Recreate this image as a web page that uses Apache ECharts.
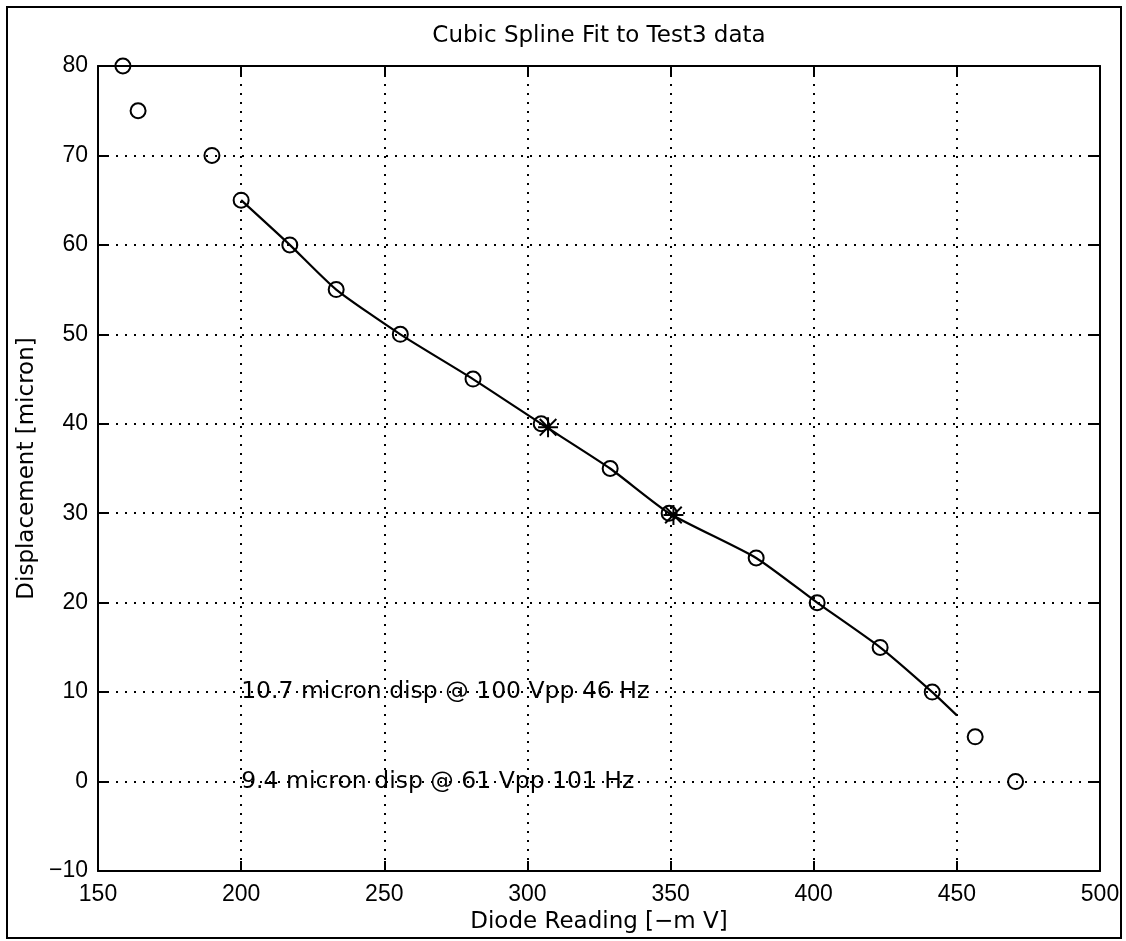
<!DOCTYPE html>
<html>
<head>
<meta charset="utf-8">
<title>Cubic Spline Fit to Test3 data</title>
<script src="https://cdn.jsdelivr.net/npm/echarts@6/dist/echarts.min.js"></script>
<style>
  html, body { margin: 0; padding: 0; background: #fff; }
  #chart { width: 1126px; height: 941px; }
</style>
</head>
<body>
<div id="chart"></div>
<script>
// measured test points (circles)
const diodeReading = [158.7, 164, 189.8, 200, 217, 233.2, 255.6, 281, 304.8, 328.9, 349.5, 379.9, 401.2, 423.2, 441.4, 456.4, 470.5];
const displacement = [80, 75, 70, 65, 60, 55, 50, 45, 40, 35, 30, 25, 20, 15, 10, 5, 0];

// spline curve
const splineX = [200, 217, 233.2, 255.6, 281, 304.8, 328.9, 349.5, 379.9, 401.2, 423.2, 441.4, 450];
const splineY = [65, 60, 55, 50, 45, 40, 35, 30, 25, 20, 15, 10, 7.4];

// operating points (stars)
const starX = [307.2, 351];
const starY = [39.6, 29.8];

// text notes on the plot
const noteText = ['10.7 micron disp @ 100 Vpp 46 Hz', '9.4 micron disp @ 61 Vpp 101 Hz'];
const noteX = [200, 200];
const noteY = [10, 0];

const zip = (xs, ys) => xs.map((x, i) => [x, ys[i]]);

const asterisk = 'path://M0,9H20V11H0Z M9,0H11V20H9Z M2.4,1L19,17.6L17.6,19L1,2.4Z M17.6,1L19,2.4L2.4,19L1,17.6Z';

const black = { color: '#000', width: 2 };
const gridDots = { color: '#000', width: 2, type: [2, 7] };

const chart = echarts.init(document.getElementById('chart'));

chart.setOption({
  animation: false,
  backgroundColor: '#fff',
  grid: { left: 98, right: 26, top: 66, bottom: 70, containLabel: false },
  xAxis: [{
    type: 'value', min: 150, max: 500, interval: 50,
    name: 'Diode Reading [\u2212m V]', nameLocation: 'middle', nameGap: 37,
    nameTextStyle: { color: '#000', fontFamily: 'DejaVu Sans', fontSize: 23 },
    axisLine: { show: true, onZero: false, lineStyle: black },
    axisTick: { show: true, inside: true, length: 10, lineStyle: black },
    axisLabel: { margin: 12, color: '#000', fontFamily: 'Liberation Sans', fontSize: 23 },
    splitLine: { show: true, lineStyle: gridDots }
  }, {
    type: 'value', position: 'top', min: 150, max: 500, interval: 50,
    axisLine: { show: true, onZero: false, lineStyle: black },
    axisTick: { show: true, inside: true, length: 10, lineStyle: black },
    axisLabel: { show: false },
    splitLine: { show: false }
  }],
  yAxis: [{
    type: 'value', min: -10, max: 80, interval: 10,
    name: 'Displacement [micron]', nameLocation: 'middle', nameGap: 56,
    nameTextStyle: { color: '#000', fontFamily: 'DejaVu Sans', fontSize: 23 },
    axisLine: { show: true, onZero: false, lineStyle: black },
    axisTick: { show: true, inside: true, length: 10, lineStyle: black },
    axisLabel: {
      margin: 10, color: '#000', fontFamily: 'Liberation Sans', fontSize: 23,
      formatter: v => String(v).replace('-', '\u2212')
    },
    splitLine: { show: true, lineStyle: gridDots }
  }, {
    type: 'value', position: 'right', min: -10, max: 80, interval: 10,
    axisLine: { show: true, onZero: false, lineStyle: black },
    axisTick: { show: true, inside: true, length: 10, lineStyle: black },
    axisLabel: { show: false },
    splitLine: { show: false }
  }],
  graphic: [
    {
      type: 'rect', silent: true,
      shape: { x: 7, y: 7, width: 1114, height: 931 },
      style: { fill: 'none', stroke: '#000', lineWidth: 2 }
    },
    {
      type: 'text', silent: true, x: 599, y: 36,
      style: {
        text: 'Cubic Spline Fit to Test3 data',
        fill: '#000', font: '23px "DejaVu Sans"',
        textAlign: 'center', textVerticalAlign: 'middle'
      }
    }
  ],
  series: [
    {
      name: 'spline', type: 'line', smooth: 0.2,
      data: zip(splineX, splineY),
      showSymbol: false,
      lineStyle: { color: '#000', width: 2.2 },
      z: 3
    },
    {
      name: 'test data', type: 'scatter',
      data: zip(diodeReading, displacement),
      symbol: 'circle', symbolSize: 15,
      itemStyle: { color: 'rgba(0,0,0,0)', borderColor: '#000', borderWidth: 2, opacity: 1 },
      z: 4
    },
    {
      name: 'operating points', type: 'scatter',
      data: zip(starX, starY),
      symbol: asterisk, symbolSize: 20,
      itemStyle: { color: '#000', opacity: 1 },
      z: 5
    },
    {
      name: 'notes', type: 'scatter',
      data: noteX.map((x, i) => ({ value: [x, noteY[i]], note: noteText[i] })),
      symbolSize: 0,
      itemStyle: { opacity: 1 },
      label: {
        show: true, position: 'right', distance: 0,
        formatter: p => p.data.note,
        color: '#000', fontFamily: 'DejaVu Sans', fontSize: 23.5
      },
      z: 6
    }
  ]
});
</script>
</body>
</html>
